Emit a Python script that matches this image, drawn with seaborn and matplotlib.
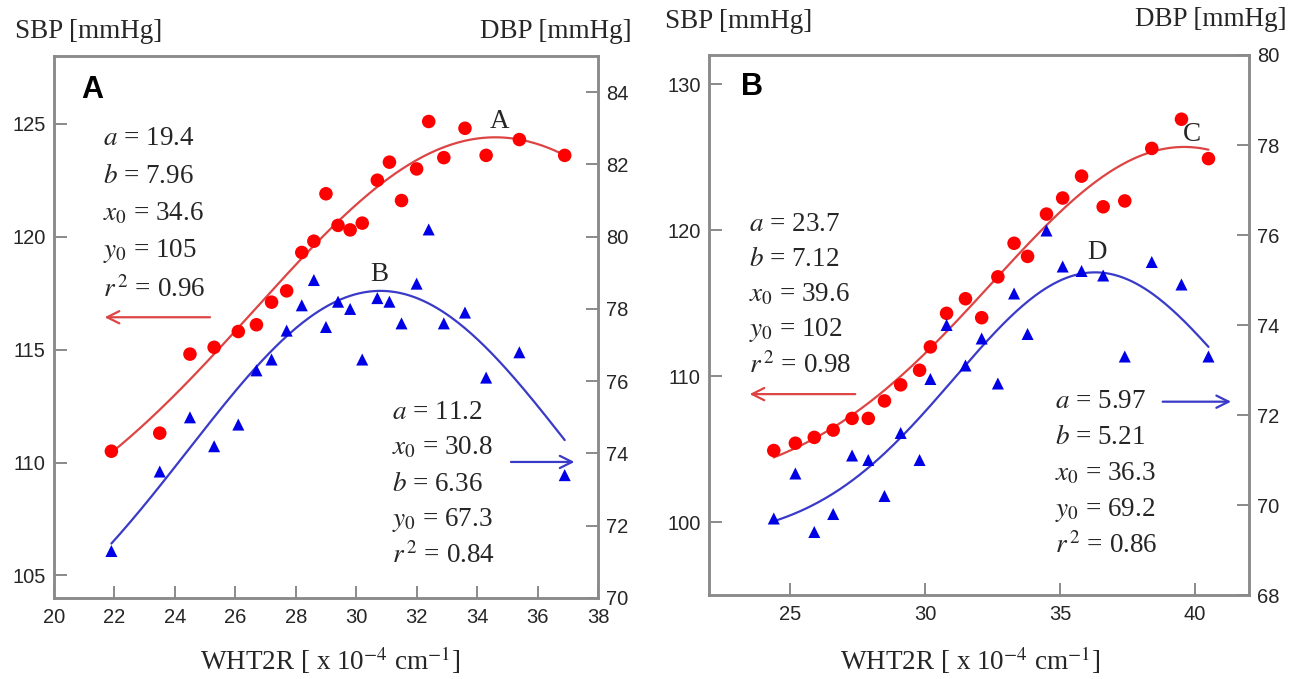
import numpy as np
import matplotlib
matplotlib.use("Agg")
import matplotlib.pyplot as plt
import seaborn as sns

# ---- panel A data ----
whtr_a = [21.9, 23.5, 24.5, 25.3, 26.1, 26.7, 27.2, 27.7, 28.2, 28.6, 29.0, 29.4,
          29.8, 30.2, 30.7, 31.1, 31.5, 32.0, 32.4, 32.9, 33.6, 34.3, 35.4, 36.9]
sbp_a = [110.5, 111.3, 114.8, 115.1, 115.8, 116.1, 117.1, 117.6, 119.3, 119.8, 121.9, 120.5,
         120.3, 120.6, 122.5, 123.3, 121.6, 123.0, 125.1, 123.5, 124.8, 123.6, 124.3, 123.6]
dbp_a = [71.3, 73.5, 75.0, 74.2, 74.8, 76.3, 76.6, 77.4, 78.1, 78.8, 77.5, 78.2,
         78.0, 76.6, 78.3, 78.2, 77.6, 78.7, 80.2, 77.6, 77.9, 76.1, 76.8, 73.4]

# ---- panel B data ----
whtr_b = [24.4, 25.2, 25.9, 26.6, 27.3, 27.9, 28.5, 29.1, 29.8, 30.2, 30.8, 31.5,
          32.1, 32.7, 33.3, 33.8, 34.5, 35.1, 35.8, 36.6, 37.4, 38.4, 39.5, 40.5]
sbp_b = [104.9, 105.4, 105.8, 106.3, 107.1, 107.1, 108.3, 109.4, 110.4, 112.0, 114.3, 115.3,
         114.0, 116.8, 119.1, 118.2, 121.1, 122.2, 123.7, 121.6, 122.0, 125.6, 127.6, 124.9]
dbp_b = [69.7, 70.7, 69.4, 69.8, 71.1, 71.0, 70.2, 71.6, 71.0, 72.8, 74.0, 73.1,
         73.7, 72.7, 74.7, 73.8, 76.1, 75.3, 75.2, 75.1, 73.3, 75.4, 74.9, 73.3]

# Gaussian fit parameters printed on the chart: a, b, x0, y0, r2
fit_sbp_a = [19.4, 7.96, 34.6, 105, 0.96]
fit_dbp_a = [11.2, 6.36, 30.8, 67.3, 0.84]
fit_sbp_b = [23.7, 7.12, 39.6, 102, 0.98]
fit_dbp_b = [5.97, 5.21, 36.3, 69.2, 0.86]


def gauss(x, p):
    a, b, x0, y0 = p[:4]
    return y0 + a * np.exp(-0.5 * ((x - x0) / b) ** 2)


def param_lines(p, order):
    names = {"a": "$a$", "b": "$b$", "x0": "$x_0$", "y0": "$y_0$"}
    vals = {"a": p[0], "b": p[1], "x0": p[2], "y0": p[3]}
    lines = [f"{names[k]} = {vals[k]:g}" for k in order]
    lines.append(r"$r^{\,2}$ = " + "%.2f" % p[4])
    return lines


sns.set_style("white")
plt.rcParams["font.family"] = ["Liberation Sans", "DejaVu Sans"]
plt.rcParams["mathtext.fontset"] = "stix"

RED, BLUE = "#ff0000", "#0000e6"
RED_LINE, BLUE_LINE = "#dd4444", "#3a3ac8"
SPINE = "#8a8a8a"
TXT = "#262626"
SERIF = ["Liberation Serif", "DejaVu Serif"]

fig = plt.figure(figsize=(12.94, 6.79), dpi=100)


def draw_panel(rect, x, sbp, dbp, fs, fd, xlim, yl, yr, xticks, ylt, yrt):
    ax = fig.add_axes(rect)
    ax2 = ax.twinx()

    xs = np.linspace(min(x), max(x), 200)
    sns.lineplot(x=xs, y=gauss(xs, fs), ax=ax, color=RED_LINE, lw=1.6)
    sns.scatterplot(x=x, y=sbp, ax=ax, color=RED, marker="o", s=95,
                    edgecolor="none", zorder=3)
    sns.lineplot(x=xs, y=gauss(xs, fd), ax=ax2, color=BLUE_LINE, lw=1.6)
    sns.scatterplot(x=x, y=dbp, ax=ax2, color=BLUE, marker="^", s=75,
                    edgecolor="none", zorder=3)

    ax.set_xlim(*xlim)
    ax.set_ylim(*yl)
    ax2.set_ylim(*yr)
    ax.set_xticks(xticks)
    ax.set_yticks(ylt)
    ax2.set_yticks(yrt)
    ax.set_xlabel("")
    ax.set_ylabel("")
    ax2.set_ylabel("")

    for a_ in (ax, ax2):
        for s in a_.spines.values():
            s.set_color(SPINE)
            s.set_linewidth(1.8)
        a_.tick_params(direction="in", length=9, width=1.4, color=SPINE,
                       labelsize=14.5, labelcolor=TXT, pad=6)
    ax.tick_params(axis="y", right=False, left=True)
    ax2.tick_params(axis="y", left=False, right=True)
    ax.tick_params(axis="x", bottom=True, top=False, pad=7)
    return ax, ax2


ax_a, ax_a2 = draw_panel([0.0417, 0.1193, 0.4204, 0.7982], whtr_a, sbp_a, dbp_a,
                         fit_sbp_a, fit_dbp_a, (20, 38), (104, 128), (70, 85),
                         list(range(20, 39, 2)), [105, 110, 115, 120, 125],
                         list(range(70, 85, 2)))
ax_b, ax_b2 = draw_panel([0.5479, 0.1237, 0.4173, 0.7953], whtr_b, sbp_b, dbp_b,
                         fit_sbp_b, fit_dbp_b, (22, 42), (95, 132), (68, 80),
                         [25, 30, 35, 40], [100, 110, 120, 130],
                         list(range(68, 81, 2)))


def block(ax, x, y, step, lines):
    for i, t in enumerate(lines):
        ax.text(x, y - i * step, t, transform=ax.transAxes, fontsize=19.5,
                family=SERIF, color=TXT, va="center", ha="left")


def arrow(ax, x0, x1, y, color):
    ax.annotate("", xy=(x1, y), xytext=(x0, y), xycoords=ax.transAxes,
                arrowprops=dict(arrowstyle="->", color=color, lw=1.6,
                                mutation_scale=22))


# panel A annotations
ax_a2.text(0.070, 0.937, "A", transform=ax_a2.transAxes, fontsize=22,
           fontweight="bold", color="black", ha="center", va="center")
block(ax_a2, 0.090, 0.848, 0.0695, param_lines(fit_sbp_a, ["a", "b", "x0", "y0"]))
block(ax_a2, 0.622, 0.343, 0.0664, param_lines(fit_dbp_a, ["a", "x0", "b", "y0"]))
arrow(ax_a2, 0.292, 0.088, 0.518, RED_LINE)
arrow(ax_a2, 0.835, 0.962, 0.251, BLUE_LINE)
ax_a2.text(0.820, 0.880, "A", transform=ax_a2.transAxes, fontsize=19.5,
           family=SERIF, color=TXT, ha="center", va="center")
ax_a2.text(0.598, 0.597, "B", transform=ax_a2.transAxes, fontsize=19.5,
           family=SERIF, color=TXT, ha="center", va="center")

# panel B annotations
ax_b2.text(0.080, 0.941, "B", transform=ax_b2.transAxes, fontsize=22,
           fontweight="bold", color="black", ha="center", va="center")
block(ax_b2, 0.075, 0.687, 0.0656, param_lines(fit_sbp_b, ["a", "b", "x0", "y0"]))
block(ax_b2, 0.640, 0.358, 0.0667, param_lines(fit_dbp_b, ["a", "b", "x0", "y0"]))
arrow(ax_b2, 0.276, 0.070, 0.372, RED_LINE)
arrow(ax_b2, 0.835, 0.972, 0.358, BLUE_LINE)
ax_b2.text(0.894, 0.853, "C", transform=ax_b2.transAxes, fontsize=19.5,
           family=SERIF, color=TXT, ha="center", va="center")
ax_b2.text(0.719, 0.635, "D", transform=ax_b2.transAxes, fontsize=19.5,
           family=SERIF, color=TXT, ha="center", va="center")

# axis titles
xlab = r"WHT2R [ x 10$^{-4}$ cm$^{-1}$]"
fig.text(15 / 1294, 1 - 32 / 679, "SBP [mmHg]", family=SERIF, fontsize=19.5,
         color=TXT, ha="left", va="center")
fig.text(632 / 1294, 1 - 32 / 679, "DBP [mmHg]", family=SERIF, fontsize=19.5,
         color=TXT, ha="right", va="center")
fig.text(665 / 1294, 1 - 22 / 679, "SBP [mmHg]", family=SERIF, fontsize=19.5,
         color=TXT, ha="left", va="center")
fig.text(1287 / 1294, 1 - 20 / 679, "DBP [mmHg]", family=SERIF, fontsize=19.5,
         color=TXT, ha="right", va="center")
fig.text(330 / 1294, 1 - 660 / 679, xlab, family=SERIF, fontsize=19.5,
         color=TXT, ha="center", va="center")
fig.text(970 / 1294, 1 - 660 / 679, xlab, family=SERIF, fontsize=19.5,
         color=TXT, ha="center", va="center")

fig.savefig("out.png", dpi=100)
